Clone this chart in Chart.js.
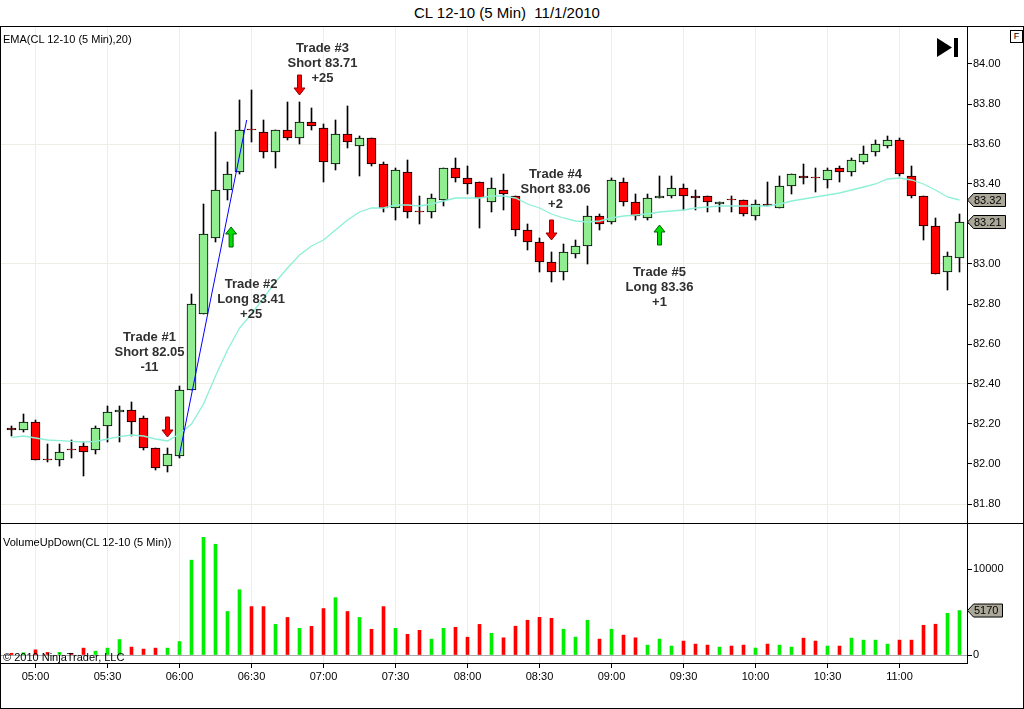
<!DOCTYPE html>
<html>
<head>
<meta charset="utf-8">
<title>CL 12-10 (5 Min) 11/1/2010</title>
<script src="https://cdn.jsdelivr.net/npm/chart.js@4.4.1/dist/chart.umd.min.js"></script>
<style>
  body { margin: 0; background: #fff; }
  #wrap { position: relative; width: 1024px; height: 709px; overflow: hidden; background: #fff;
          font-family: "Liberation Sans", Arial, sans-serif; }
  #title { position: absolute; left: 0; top: 4px; width: 1014px; text-align: center;
           font-size: 15px; line-height: 18px; white-space: pre; color: #000; }
  .pane { position: absolute; left: 0; width: 1024px; }
  #frame { position: absolute; left: 0; top: 26px; width: 1024px; height: 683px;
           box-sizing: border-box; border: 1px solid #000; pointer-events: none; }
  #sep { position: absolute; left: 0; top: 523px; width: 1024px; height: 1px; background: #000; }
  .lbl { position: absolute; left: 3px; font-size: 11px; line-height: 12px; color: #000; white-space: pre; }
  #fbox { position: absolute; left: 1010px; top: 30px; width: 13px; height: 13px; box-sizing: border-box;
          border: 1px solid #000; font-size: 9px; line-height: 11px; text-align: center; background: #fff; }
</style>
</head>
<body>
<div id="wrap">
  <div id="title">CL 12-10 (5 Min)  11/1/2010</div>
  <div class="pane" style="top:26px;height:497px"><canvas id="priceChart"></canvas></div>
  <div class="pane" style="top:523px;height:186px"><canvas id="volumeChart"></canvas></div>
  <div id="sep"></div>
  <div id="frame"></div>
  <div class="lbl" style="top:33px">EMA(CL 12-10 (5 Min),20)</div>
  <div class="lbl" style="top:536px">VolumeUpDown(CL 12-10 (5 Min))</div>
  <div class="lbl" style="top:651px">© 2010 NinjaTrader, LLC</div>
  <div id="fbox">F</div>
</div>
<script>
// 5-minute bars, 04:50 .. 11:25
const opens  = [82.18, 82.17, 82.21, 82.02, 82.02, 82.07, 82.09, 82.07, 82.19, 82.26,
                82.27, 82.23, 82.08, 81.99, 82.04, 82.37, 82.75, 83.13, 83.37, 83.46,
                83.67, 83.66, 83.56, 83.67, 83.63, 83.71, 83.68, 83.50, 83.65, 83.59,
                83.63, 83.50, 83.28, 83.46, 83.26, 83.26, 83.32, 83.48, 83.43, 83.41,
                83.31, 83.37, 83.34, 83.17, 83.11, 83.01, 82.96, 83.05, 83.09, 83.24,
                83.21, 83.41, 83.31, 83.23, 83.33, 83.34, 83.38, 83.34, 83.34, 83.30,
                83.32, 83.32, 83.24, 83.30, 83.28, 83.39, 83.44, 83.43, 83.42, 83.48,
                83.46, 83.51, 83.56, 83.59, 83.62, 83.44, 83.34, 83.19, 82.96, 83.03];
const highs  = [82.19, 82.25, 82.22, 82.10, 82.10, 82.12, 82.11, 82.19, 82.29, 82.29,
                82.31, 82.24, 82.08, 82.08, 82.39, 82.85, 83.30, 83.66, 83.51, 83.82,
                83.87, 83.72, 83.67, 83.81, 83.81, 83.78, 83.70, 83.72, 83.79, 83.64,
                83.63, 83.51, 83.48, 83.52, 83.34, 83.35, 83.48, 83.53, 83.49, 83.41,
                83.43, 83.45, 83.34, 83.20, 83.13, 83.06, 83.10, 83.12, 83.29, 83.25,
                83.43, 83.43, 83.35, 83.35, 83.44, 83.44, 83.40, 83.37, 83.34, 83.31,
                83.34, 83.32, 83.32, 83.41, 83.44, 83.45, 83.50, 83.48, 83.48, 83.49,
                83.53, 83.59, 83.62, 83.64, 83.63, 83.49, 83.34, 83.23, 83.06, 83.25];
const lows   = [82.14, 82.16, 82.02, 82.01, 81.99, 82.03, 81.94, 82.05, 82.11, 82.11,
                82.14, 82.07, 81.97, 81.96, 82.03, 82.37, 82.75, 83.11, 83.32, 83.45,
                83.61, 83.53, 83.48, 83.62, 83.60, 83.67, 83.41, 83.47, 83.58, 83.44,
                83.49, 83.26, 83.22, 83.23, 83.20, 83.23, 83.29, 83.41, 83.35, 83.18,
                83.26, 83.27, 83.14, 83.07, 82.96, 82.91, 82.92, 83.03, 83.00, 83.17,
                83.20, 83.29, 83.22, 83.22, 83.33, 83.33, 83.27, 83.27, 83.26, 83.26,
                83.26, 83.24, 83.22, 83.29, 83.28, 83.35, 83.40, 83.36, 83.38, 83.41,
                83.44, 83.50, 83.54, 83.58, 83.44, 83.33, 83.12, 82.95, 82.87, 82.96];
const closes = [82.17, 82.21, 82.02, 82.02, 82.06, 82.07, 82.06, 82.18, 82.26, 82.27,
                82.21, 82.08, 81.98, 82.05, 82.37, 82.80, 83.15, 83.37, 83.45, 83.67,
                83.67, 83.56, 83.67, 83.63, 83.71, 83.69, 83.51, 83.65, 83.61, 83.63,
                83.50, 83.28, 83.47, 83.26, 83.26, 83.33, 83.48, 83.43, 83.40, 83.33,
                83.38, 83.35, 83.17, 83.11, 83.01, 82.96, 83.06, 83.09, 83.24, 83.20,
                83.42, 83.31, 83.24, 83.33, 83.34, 83.38, 83.34, 83.33, 83.31, 83.31,
                83.32, 83.25, 83.30, 83.29, 83.39, 83.45, 83.43, 83.43, 83.47, 83.46,
                83.52, 83.55, 83.60, 83.62, 83.45, 83.34, 83.19, 82.95, 83.04, 83.21];
const volumes = [200, 250, 600, 300, 300, 200, 800, 450, 800, 1800,
                 920, 690, 800, 800, 1570, 11030, 13680, 12880, 5060, 7590,
                 5630, 5630, 3560, 4370, 3100, 3330, 5400, 6670, 5060, 4370,
                 2990, 5630, 3100, 2410, 2870, 1840, 3100, 3220, 2070, 3560,
                 2530, 2000, 3350, 4040, 4380, 4270, 3000, 2080, 4040, 1850,
                 3000, 2310, 2000, 1150, 1850, 1040, 1620, 1270, 1150, 920,
                 1040, 1150, 810, 1270, 1150, 920, 1960, 1620, 1040, 1040,
                 1960, 1730, 1730, 1270, 1730, 1730, 3460, 3580, 4850, 5170];
const ema20 = [82.133, 82.14, 82.13, 82.12, 82.117, 82.113, 82.11, 82.113, 82.125, 82.137,
               82.145, 82.14, 82.125, 82.115, 82.15, 82.20, 82.30, 82.44, 82.57, 82.68,
               82.75, 82.83, 82.91, 82.98, 83.045, 83.09, 83.12, 83.17, 83.22, 83.26,
               83.28, 83.28, 83.295, 83.295, 83.29, 83.30, 83.315, 83.33, 83.33, 83.33,
               83.34, 83.34, 83.33, 83.30, 83.28, 83.25, 83.23, 83.215, 83.21, 83.215,
               83.23, 83.24, 83.245, 83.25, 83.26, 83.265, 83.27, 83.28, 83.285, 83.29,
               83.29, 83.29, 83.29, 83.29, 83.30, 83.315, 83.325, 83.335, 83.345, 83.355,
               83.37, 83.385, 83.40, 83.425, 83.43, 83.42, 83.40, 83.37, 83.335, 83.32];

// hand-drawn trend line: [bar, price]
const trendLine = [[13.96, 82.036], [19.6, 83.72]];

const trades = [
  { bar: 13,   price: 82.135, side: 'short', lines: ['Trade #1', 'Short 82.05', '-11'] },
  { bar: 18.3, price: 83.185, side: 'long',  lines: ['Trade #2', 'Long 83.41', '+25'] },
  { bar: 24,   price: 83.845, side: 'short', lines: ['Trade #3', 'Short 83.71', '+25'] },
  { bar: 45,   price: 83.12,  side: 'short', lines: ['Trade #4', 'Short 83.06', '+2'] },
  { bar: 54,   price: 83.195, side: 'long',  lines: ['Trade #5', 'Long 83.36', '+1'] }
];

const tickBars   = [2, 8, 14, 20, 26, 32, 38, 44, 50, 56, 62, 68, 74];
const tickLabels = ['05:00', '05:30', '06:00', '06:30', '07:00', '07:30', '08:00',
                    '08:30', '09:00', '09:30', '10:00', '10:30', '11:00'];
const priceTicks  = [81.8, 82.0, 82.2, 82.4, 82.6, 82.8, 83.0, 83.2, 83.4, 83.6, 83.8, 84.0];
const priceGrid   = [81.8, 82.4, 83.0, 83.6];
const volumeTicks = [0, 10000];

// layout constants (pixels)
const tradeLabelOffsets = [[-18, -100], [20, 57], [23, -47], [4, -66], [0, 47]];
const AXIS_W = 57;
const FONT = '"Liberation Sans", Arial, sans-serif';
const GRID = '#efeee3';
const UP_BODY = '#90ee90', DOWN_BODY = '#ff0000';
const UP_VOL = '#00ee00', DOWN_VOL = '#ff0000';

const bars = opens.map((_, i) => i);
const isUp = bars.map(i => closes[i] > opens[i]);

function xScale(withLabels) {
  return {
    type: 'linear', min: -0.9583, max: 79.625, bounds: 'data', offset: false,
    afterBuildTicks: s => { s.ticks = tickBars.map(v => ({ value: v })); },
    afterFit: s => { s.height = withLabels ? 46 : 0; s.paddingLeft = 0; s.paddingRight = 0; },
    grid: { offset: false, color: GRID, tickColor: '#000', tickLength: 5, drawTicks: withLabels },
    border: { display: withLabels, color: '#000' },
    ticks: {
      display: withLabels, autoSkip: false, maxRotation: 0, padding: 2,
      color: '#000', font: { family: FONT, size: 11 },
      callback: v => tickLabels[tickBars.indexOf(v)]
    }
  };
}

function yScale(min, max, ticks, gridColor, fmt) {
  return {
    position: 'right', min, max,
    afterBuildTicks: s => { s.ticks = ticks.map(v => ({ value: v })); },
    afterFit: s => { s.width = AXIS_W; s.paddingTop = 0; s.paddingBottom = 0; },
    grid: { color: gridColor, tickColor: '#000', tickLength: 5 },
    border: { color: '#000' },
    ticks: { padding: 1, color: '#000', font: { family: FONT, size: 11 }, callback: fmt }
  };
}

function drawTag(ctx, x, y, text) {
  ctx.save();
  ctx.font = '11px ' + FONT;
  const w = Math.ceil(ctx.measureText(text).width) + 10;
  ctx.beginPath();
  ctx.moveTo(x + 0.5, y);
  ctx.lineTo(x + 6.5, y - 6.5);
  ctx.lineTo(x + w + 0.5, y - 6.5);
  ctx.lineTo(x + w + 0.5, y + 6.5);
  ctx.lineTo(x + 6.5, y + 6.5);
  ctx.closePath();
  ctx.fillStyle = '#aca899';
  ctx.fill();
  ctx.strokeStyle = '#000';
  ctx.lineWidth = 1;
  ctx.stroke();
  ctx.fillStyle = '#000';
  ctx.textBaseline = 'middle';
  ctx.fillText(text, x + 7, y + 0.5);
  ctx.restore();
}

function drawArrow(ctx, x, y, side) {
  const s = side === 'short' ? -1 : 1;
  ctx.save();
  ctx.beginPath();
  ctx.moveTo(x, y);
  ctx.lineTo(x + 5.5, y + s * 7);
  ctx.lineTo(x + 2, y + s * 7);
  ctx.lineTo(x + 2, y + s * 20);
  ctx.lineTo(x - 2, y + s * 20);
  ctx.lineTo(x - 2, y + s * 7);
  ctx.lineTo(x - 5.5, y + s * 7);
  ctx.closePath();
  ctx.fillStyle = side === 'short' ? '#ff0000' : '#00e000';
  ctx.fill();
  ctx.strokeStyle = side === 'short' ? '#900000' : '#006000';
  ctx.lineWidth = 1;
  ctx.stroke();
  ctx.restore();
}

const priceOverlay = {
  id: 'priceOverlay',
  afterDatasetsDraw(chart) {
    const { ctx, scales: { x, y } } = chart;
    trades.forEach((t, k) => {
      const px = x.getPixelForValue(t.bar);
      const py = y.getPixelForValue(t.price);
      drawArrow(ctx, px, py, t.side);
      const [dx, dy] = tradeLabelOffsets[k];
      ctx.save();
      ctx.font = 'bold 13px ' + FONT;
      ctx.fillStyle = '#303030';
      ctx.textAlign = 'center';
      ctx.textBaseline = 'middle';
      t.lines.forEach((line, j) => ctx.fillText(line, px + dx, py + dy + j * 15));
      ctx.restore();
    });
    // "go to last bar" icon
    ctx.save();
    ctx.fillStyle = '#000';
    ctx.beginPath();
    ctx.moveTo(937, 12);
    ctx.lineTo(952, 21.5);
    ctx.lineTo(937, 31);
    ctx.closePath();
    ctx.fill();
    ctx.fillRect(954, 12, 4, 19);
    ctx.restore();
  },
  afterDraw(chart) {
    const { ctx, chartArea, scales: { y } } = chart;
    const lastEma = ema20[ema20.length - 1];
    const lastClose = closes[closes.length - 1];
    drawTag(ctx, chartArea.right, y.getPixelForValue(lastEma), lastEma.toFixed(2));
    drawTag(ctx, chartArea.right, y.getPixelForValue(lastClose), lastClose.toFixed(2));
  }
};

const volumeOverlay = {
  id: 'volumeOverlay',
  afterDraw(chart) {
    const { ctx, chartArea, scales: { y } } = chart;
    const last = volumes[volumes.length - 1];
    drawTag(ctx, chartArea.right, y.getPixelForValue(last), String(last));
  }
};

new Chart(document.getElementById('priceChart'), {
  type: 'bar',
  data: {
    datasets: [
      {
        type: 'line', order: 0,
        data: trendLine.map(([b, p]) => ({ x: b, y: p })),
        borderColor: '#0000ff', borderWidth: 1, pointRadius: 0
      },
      {
        type: 'line', order: 1,
        data: bars.map(i => ({ x: i, y: ema20[i] })),
        borderColor: 'rgb(140,240,215)', borderWidth: 1.3, pointRadius: 0, tension: 0
      },
      {
        order: 2, grouped: false,
        data: bars.map(i => ({ x: i, y: [Math.min(opens[i], closes[i]), Math.max(opens[i], closes[i])] })),
        backgroundColor: bars.map(i => isUp[i] ? UP_BODY : DOWN_BODY),
        borderColor: '#000', borderWidth: 1, borderSkipped: false,
        barThickness: 9, minBarLength: 1
      },
      {
        order: 3, grouped: false,
        data: bars.map(i => ({ x: i, y: [lows[i], highs[i]] })),
        backgroundColor: '#000', barThickness: 1
      }
    ]
  },
  options: {
    responsive: true, maintainAspectRatio: false, animation: false, events: [],
    layout: { padding: 0, autoPadding: false },
    plugins: { legend: { display: false }, tooltip: { enabled: false } },
    scales: {
      x: xScale(false),
      y: yScale(81.705, 84.19, priceTicks,
        c => priceGrid.some(g => Math.abs(g - c.tick.value) < 1e-6) ? GRID : 'rgba(0,0,0,0)',
        v => Number(v).toFixed(2))
    }
  },
  plugins: [priceOverlay]
});

new Chart(document.getElementById('volumeChart'), {
  type: 'bar',
  data: {
    datasets: [{
      grouped: false,
      data: bars.map(i => ({ x: i, y: volumes[i] })),
      backgroundColor: bars.map(i => isUp[i] ? UP_VOL : DOWN_VOL),
      barThickness: 3
    }]
  },
  options: {
    responsive: true, maintainAspectRatio: false, animation: false, events: [],
    layout: { padding: 0, autoPadding: false },
    plugins: { legend: { display: false }, tooltip: { enabled: false } },
    scales: {
      x: xScale(true),
      y: yScale(-930, 15350, volumeTicks,
        c => c.tick.value === 0 ? '#a8a8a8' : 'rgba(0,0,0,0)',
        v => String(v))
    }
  },
  plugins: [volumeOverlay]
});
</script>
</body>
</html>
